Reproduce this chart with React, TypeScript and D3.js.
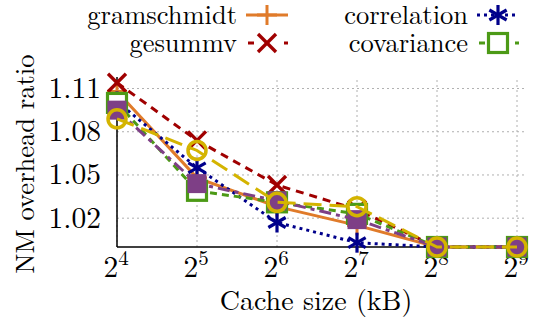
import React from "react";
import * as d3 from "d3";

const cacheSizes = [16, 32, 64, 128, 256, 512];
const xTickExponents = [4, 5, 6, 7, 8, 9];
const yTicks = [1.02, 1.05, 1.08, 1.11];

const gramschmidt = [1.108, 1.048, 1.028, 1.015, 1.0, 1.0];
const gesummv = [1.114, 1.074, 1.043, 1.026, 1.0, 1.0];
const correlation = [1.101, 1.055, 1.017, 1.003, 1.0, 1.0];
const covariance = [1.1, 1.039, 1.031, 1.023, 1.0, 1.0];
const purpleSeries = [1.095, 1.044, 1.032, 1.019, 1.0, 1.0];
const yellowSeries = [1.089, 1.067, 1.031, 1.028, 1.0, 1.0];

type Marker = "plus" | "x" | "star" | "square" | "fsquare" | "circle";
interface Series {
  name: string;
  values: number[];
  color: string;
  dash: string;
  marker: Marker;
}

const series: Series[] = [
  { name: "gramschmidt", values: gramschmidt, color: "#e07b2a", dash: "", marker: "plus" },
  { name: "gesummv", values: gesummv, color: "#a00000", dash: "8 6", marker: "x" },
  { name: "correlation", values: correlation, color: "#00008b", dash: "3 4", marker: "star" },
  { name: "covariance", values: covariance, color: "#4c9a16", dash: "7 5", marker: "square" },
  { name: "purple", values: purpleSeries, color: "#7e3f86", dash: "12 5 4 5", marker: "fsquare" },
  { name: "yellow", values: yellowSeries, color: "#d4b400", dash: "18 8", marker: "circle" },
];

const FONT = "'Latin Modern Roman'";
const FS = 26.5;
const TICK_FS = 29.5;

function MarkerShape({ m, x, y, color }: { m: Marker; x: number; y: number; color: string }) {
  switch (m) {
    case "plus":
      return (
        <g stroke={color} strokeWidth={3}>
          <line x1={x - 10} y1={y} x2={x + 10} y2={y} />
          <line x1={x} y1={y - 10} x2={x} y2={y + 10} />
        </g>
      );
    case "x":
      return (
        <g stroke={color} strokeWidth={3.4}>
          <line x1={x - 9} y1={y - 9} x2={x + 9} y2={y + 9} />
          <line x1={x - 9} y1={y + 9} x2={x + 9} y2={y - 9} />
        </g>
      );
    case "star": {
      const r = 10;
      return (
        <g stroke={color} strokeWidth={3.2}>
          {[0, 60, 120].map((a) => {
            const rad = (a * Math.PI) / 180 + Math.PI / 2;
            return (
              <line
                key={a}
                x1={x - r * Math.cos(rad)}
                y1={y - r * Math.sin(rad)}
                x2={x + r * Math.cos(rad)}
                y2={y + r * Math.sin(rad)}
              />
            );
          })}
        </g>
      );
    }
    case "square":
      return <rect x={x - 9.5} y={y - 9.5} width={19} height={19} fill="white" stroke={color} strokeWidth={3.2} />;
    case "fsquare":
      return <rect x={x - 9.5} y={y - 9.5} width={19} height={19} fill={color} stroke="none" />;
    case "circle":
      return <circle cx={x} cy={y} r={9} fill="none" stroke={color} strokeWidth={3.5} />;
  }
}

export default function App() {
  const W = 550;
  const H = 321;
  const x = d3.scaleLog().base(2).domain([16, 512]).range([117, 517]);
  const y = d3.scaleLinear().domain([1.0, 1.118]).range([247, 77]);
  const xRight = 527;
  const line = d3
    .line<number>()
    .x((_, i) => x(cacheSizes[i]))
    .y((v) => y(v));

  const legend = [
    { s: series.find((d) => d.name === "gramschmidt")!, tx: 237, ty: 24, my: 15 },
    { s: series.find((d) => d.name === "gesummv")!, tx: 237, ty: 52, my: 43 },
    { s: series.find((d) => d.name === "correlation")!, tx: 468, ty: 24, my: 15 },
    { s: series.find((d) => d.name === "covariance")!, tx: 468, ty: 52, my: 43 },
  ];
  const tStyle = { fontFamily: FONT };

  return (
    <svg width={W} height={H} style={{ position: "absolute", left: 0, top: 0, background: "white" }}>
      {/* grid */}
      <g stroke="#b0b0b0" strokeWidth={1} strokeDasharray="2 3">
        {cacheSizes.map((c) => (
          <line key={c} x1={x(c)} x2={x(c)} y1={y.range()[0]} y2={y.range()[1]} />
        ))}
        {yTicks.map((t) => (
          <line key={t} x1={x(16)} x2={xRight} y1={y(t)} y2={y(t)} />
        ))}
      </g>
      {/* axes */}
      <g stroke="black" strokeWidth={1.5}>
        <line x1={x(16)} x2={xRight} y1={247} y2={247} />
        <line x1={x(16)} x2={x(16)} y1={247} y2={77} />
      </g>
      {/* y tick labels */}
      {yTicks.map((t) => (
        <text key={t} x={101} y={y(t) + 9.5} textAnchor="end" fontSize={TICK_FS} style={tStyle}>
          {t.toFixed(2)}
        </text>
      ))}
      {/* x tick labels */}
      {cacheSizes.map((c, i) => (
        <text key={c} x={x(c) - 1} y={277} textAnchor="middle" fontSize={TICK_FS} style={tStyle}>
          2
          <tspan dy={-12} fontSize={21}>
            {xTickExponents[i]}
          </tspan>
        </text>
      ))}
      <text x={316} y={310} textAnchor="middle" fontSize={FS + 1.5} style={tStyle}>
        Cache size (kB)
      </text>
      <text transform="translate(34,164) rotate(-90)" textAnchor="middle" fontSize={FS} style={tStyle}>
        NM overhead ratio
      </text>
      {/* series */}
      {series.map((s) => (
        <g key={s.name}>
          <path d={line(s.values) || ""} fill="none" stroke={s.color} strokeWidth={3} strokeDasharray={s.dash} />
          {s.values.map((v, i) => (
            <MarkerShape key={i} m={s.marker} x={x(cacheSizes[i])} y={y(v)} color={s.color} />
          ))}
        </g>
      ))}
      {/* legend */}
      {legend.map((l) => (
        <g key={l.s.name}>
          <text x={l.tx} y={l.ty} textAnchor="end" fontSize={FS} style={tStyle}>
            {l.s.name}
          </text>
          <line
            x1={l.tx + 9}
            x2={l.tx + 51}
            y1={l.my}
            y2={l.my}
            stroke={l.s.color}
            strokeWidth={3}
            strokeDasharray={l.s.dash === "" ? "" : l.s.dash === "3 4" ? "3 4" : "6 30"}
            strokeDashoffset={l.s.dash === "" || l.s.dash === "3 4" ? 0 : -2}
          />
          <MarkerShape m={l.s.marker} x={l.tx + 30} y={l.my} color={l.s.color} />
        </g>
      ))}
    </svg>
  );
}
